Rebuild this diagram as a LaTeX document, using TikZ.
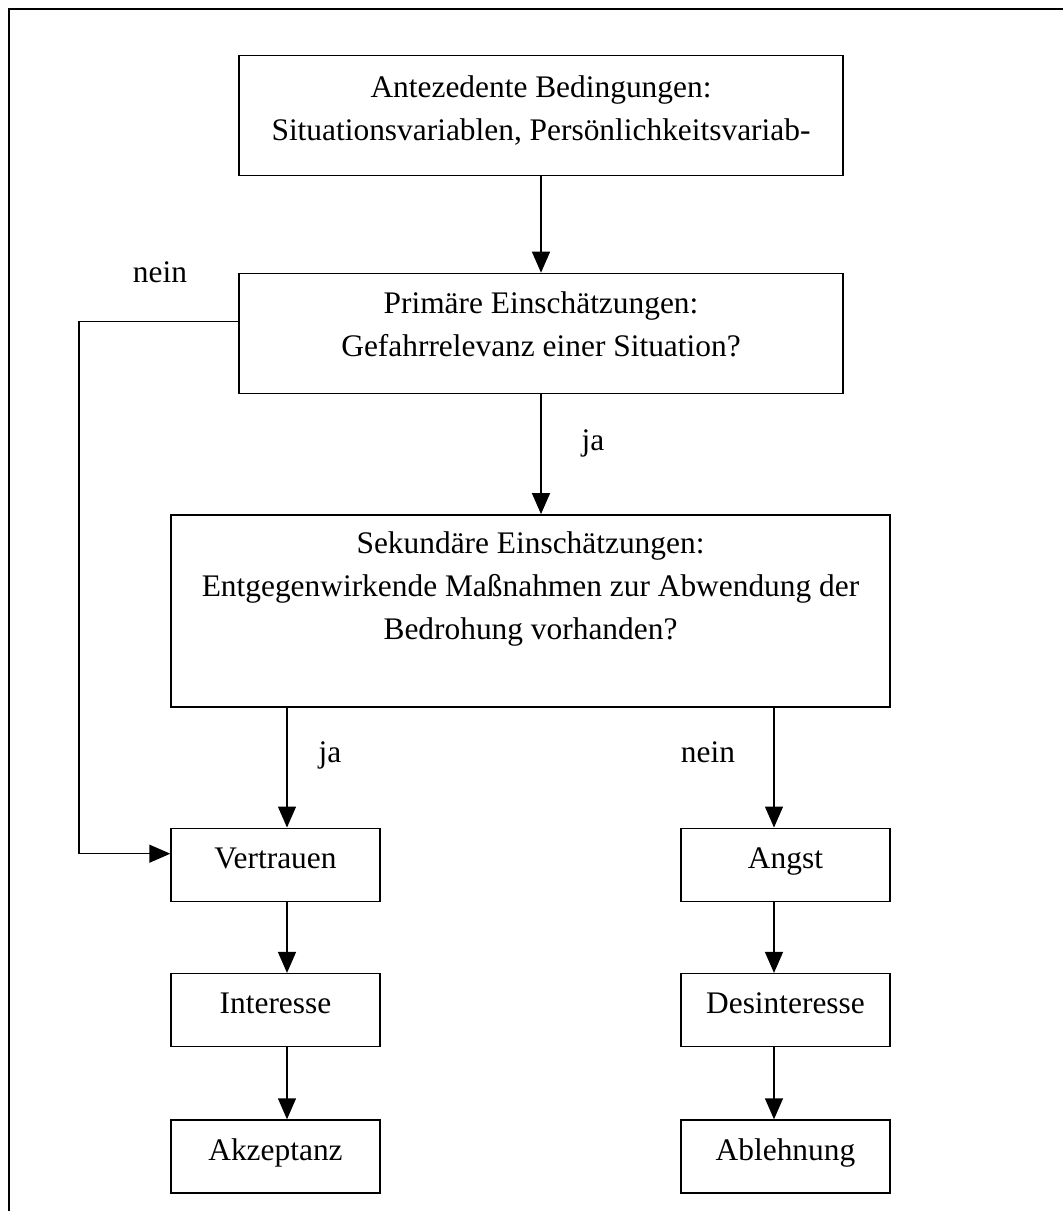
\documentclass[tikz,border=0pt]{standalone}
\usepackage{fontspec}
\setmainfont{Liberation Serif}
\usepackage{tikz}
\usetikzlibrary{arrows.meta,positioning,calc}
\newcommand\sinkby[1]{\rule[-#1]{0pt}{0pt}}
\tikzset{
  mainbox/.style={draw, line width=0.7pt, inner sep=0pt, align=center,
    font=\fontsize{15.7pt}{21.5pt}\selectfont},
  smallbox/.style={draw, line width=0.7pt, inner sep=0pt, align=center,
    minimum width=104.5pt, minimum height=36.5pt,
    text height=0.7em, text depth=0.35em,
    font=\fontsize{15.7pt}{21.5pt}\selectfont},
  flow/.style={-{Triangle[length=10.5pt, width=9pt]}, line width=0.7pt},
  lbl/.style={anchor=base, inner sep=0pt, font=\fontsize{15.7pt}{21.5pt}\selectfont},
  frame/.style={line width=1pt}
}

\begin{document}
\begin{tikzpicture}[x=1pt, y=-1pt]
\useasboundingbox (0,0) rectangle (531.5,605.5);
\draw[frame] (4.5,605.5) -- (4.5,4.5) -- (531.5,4.5);

\node[mainbox, minimum width=302pt, minimum height=60pt] (ante) at (270.5,57.85)
{Antezedente Bedingungen:\\Situationsvariablen, Persönlichkeitsvariab-\sinkby{8pt}};
\node[mainbox, minimum width=302pt, minimum height=60pt, below=48.15pt of ante] (prim)
{Primäre Einschätzungen:\\Gefahrrelevanz einer Situation?\sinkby{9.5pt}};
\node[mainbox, minimum width=359.5pt, minimum height=96pt, below=60pt of prim,
  xshift=-5.25pt] (sek)
{Sekundäre Einschätzungen:\\Entgegenwirkende Maßnahmen zur Abwendung der\\
Bedrohung vorhanden?\sinkby{25pt}};

\node[smallbox, below=60pt of sek.south west, anchor=north west] (vert) {Vertrauen};
\node[smallbox, below=35.5pt of vert] (inter) {Interesse};
\node[smallbox, below=36pt of inter] (akz) {Akzeptanz};

\node[smallbox, below=60pt of sek.south east, anchor=north east] (angst) {Angst};
\node[smallbox, below=35.5pt of angst] (desint) {Desinteresse};
\node[smallbox, below=36pt of desint] (ablehn) {Ablehnung};

\node[lbl] (neinlinks) at (80,141) {nein};
\node[lbl] (jaoben) at (296.5,225) {ja};
\node[lbl] (jalinks) at (165,381) {ja};
\node[lbl] (neinrechts) at (354,381) {nein};

\coordinate (lcol) at (143.5,0);
\coordinate (rcol) at (387,0);
\coordinate (bend) at (39.5,0);
\coordinate (neinout) at ([yshift=6pt]prim.west);
\coordinate (neinin) at ([yshift=5.5pt]vert.west);

\draw[flow] (ante) -- (prim);
\draw[flow] (prim) -- (prim.south |- sek.north);
\draw[flow] (neinout) -| (bend |- neinin) -- (neinin);
\draw[flow] (sek.south -| lcol) -- (vert.north -| lcol);
\draw[flow] (vert.south -| lcol) -- (inter.north -| lcol);
\draw[flow] (inter.south -| lcol) -- (akz.north -| lcol);
\draw[flow] (sek.south -| rcol) -- (angst.north -| rcol);
\draw[flow] (angst.south -| rcol) -- (desint.north -| rcol);
\draw[flow] (desint.south -| rcol) -- (ablehn.north -| rcol);
\end{tikzpicture}
\end{document}
